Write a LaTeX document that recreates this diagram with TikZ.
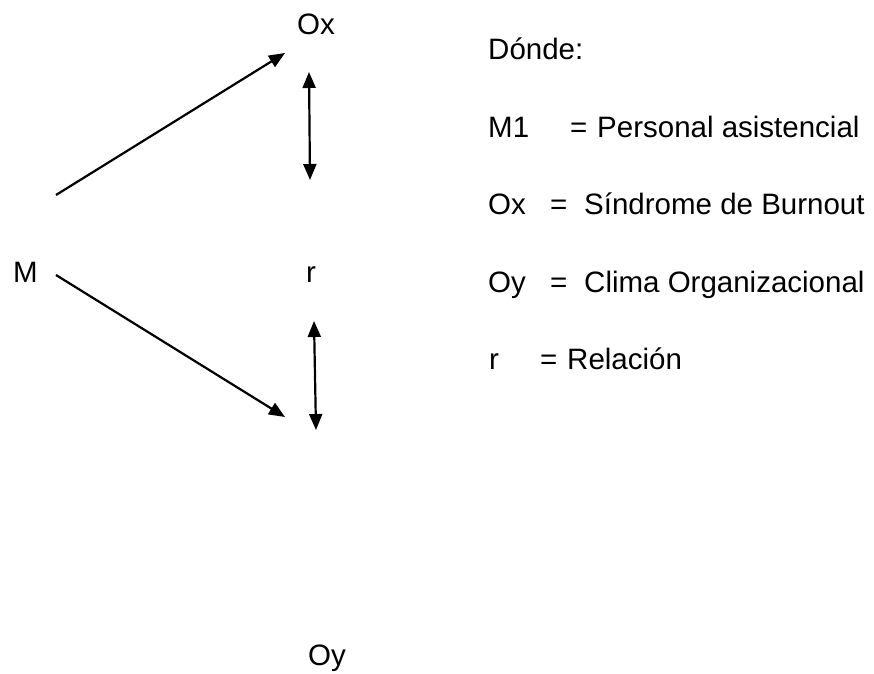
\documentclass[tikz,border=0pt]{standalone}
\usepackage{fontspec}
\setmainfont{Liberation Sans}
\usetikzlibrary{arrows.meta}
\begin{document}
\begin{tikzpicture}[x=1pt,y=1pt,
  lbl/.style={font=\fontsize{29.5}{35}\selectfont, inner sep=0pt, anchor=base west},
  conn/.style={line width=2.2pt, -{Triangle[length=16pt,width=13pt]}},
  dconn/.style={line width=2.2pt, {Triangle[length=16pt,width=13pt]}-{Triangle[length=16pt,width=13pt]}}]
\useasboundingbox (0,0) rectangle (874,673);
% diagram labels (y = 673 - image y)
\node[lbl] (Ox) at (297,638) {Ox};
\node[lbl] (M) at (13,391) {M};
\node[lbl] (r) at (306,391) {r};
\node[lbl] (Oy) at (308,8) {Oy};
% arrow end points
\coordinate (a1s) at (56,478);
\coordinate (a1e) at (285,620);
\coordinate (a2s) at (56,398);
\coordinate (a2e) at (285,256);
\coordinate (d1t) at (309,601);
\coordinate (d1b) at (310,493);
\coordinate (d2t) at (314,352);
\coordinate (d2b) at (316,243);
\draw[conn] (a1s) -- (a1e);
\draw[conn] (a2s) -- (a2e);
\draw[dconn] (d1t) -- (d1b);
\draw[dconn] (d2t) -- (d2b);
% legend
\node[lbl] (donde) at (488,613) {Dónde:};
\node[lbl] (k1) at (488,535) {M1};
\node[lbl] (q1) at (570,535) {=};
\node[lbl] (e1) at (597,535) {Personal asistencial};
\node[lbl] (k2) at (488,458) {Ox};
\node[lbl] (q2) at (550,458) {=};
\node[lbl] (e2) at (584,458) {Síndrome de Burnout};
\node[lbl] (k3) at (488,381) {Oy};
\node[lbl] (q3) at (550,381) {=};
\node[lbl] (e3) at (584,381) {Clima Organizacional};
\node[lbl] (k4) at (489,304) {r};
\node[lbl] (q4) at (540,304) {=};
\node[lbl] (e4) at (567,304) {Relación};
\end{tikzpicture}
\end{document}
